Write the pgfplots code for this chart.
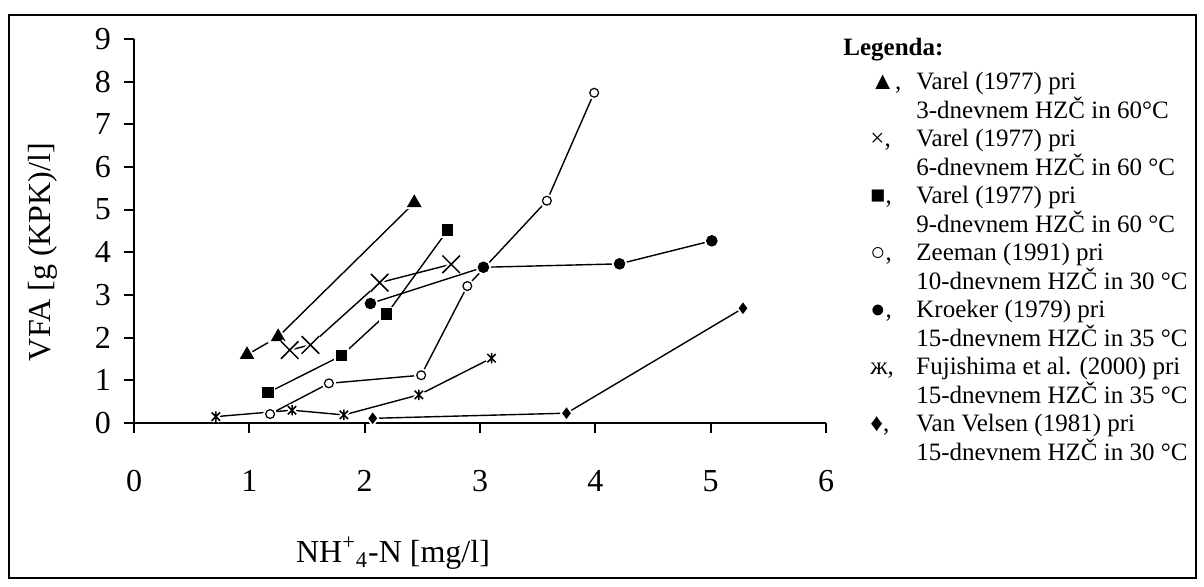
\documentclass[border=0pt]{standalone}
\usepackage{fontspec}
\setmainfont{Liberation Serif}
\usepackage{pgfplots}
\pgfplotsset{compat=1.18}
\usepackage{pgfplotstable}

% Varel (1977), 3 dni, 60 C
\pgfplotstableread{
x y
0.98 1.60
1.25 2.02
2.43 5.16
}\tri
% Varel (1977), 6 dni
\pgfplotstableread{
x y
1.35 1.71
1.53 1.83
2.13 3.29
2.75 3.72
}\crs
% Varel (1977), 9 dni
\pgfplotstableread{
x y
1.16 0.71
1.80 1.58
2.19 2.55
2.72 4.52
}\sqr
% Zeeman (1991)
\pgfplotstableread{
x y
1.18 0.21
1.69 0.93
2.49 1.12
2.89 3.21
3.58 5.21
3.99 7.74
}\ocirc
% Kroeker (1979)
\pgfplotstableread{
x y
2.05 2.80
3.03 3.65
4.21 3.73
5.01 4.27
}\fcirc
% Fujishima et al. (2000)
\pgfplotstableread{
x y
0.71 0.15
1.37 0.30
1.82 0.19
2.47 0.66
3.10 1.52
}\ast
% Van Velsen (1981)
\pgfplotstableread{
x y
2.07 0.11
3.75 0.23
5.28 2.69
}\dia

% "zh" mark: vertical bar crossed by an x
\pgfdeclareplotmark{zh}{%
  \pgfpathmoveto{\pgfqpoint{0pt}{-\pgfplotmarksize}}%
  \pgfpathlineto{\pgfqpoint{0pt}{\pgfplotmarksize}}%
  \pgfpathmoveto{\pgfqpoint{-.8\pgfplotmarksize}{-.8\pgfplotmarksize}}%
  \pgfpathlineto{\pgfqpoint{.8\pgfplotmarksize}{.8\pgfplotmarksize}}%
  \pgfpathmoveto{\pgfqpoint{-.8\pgfplotmarksize}{.8\pgfplotmarksize}}%
  \pgfpathlineto{\pgfqpoint{.8\pgfplotmarksize}{-.8\pgfplotmarksize}}%
  \pgfusepathqstroke}

\pgfplotsset{
  ln/.style={black, line width=0.7pt, mark=none},
  halo/.style={only marks, mark options={draw=white, fill=white, line width=2.6pt, solid}},
  mk/.style={only marks, mark options={draw=black, fill=black, line width=0.75pt, solid}},
}

\begin{document}
\begin{tikzpicture}
\useasboundingbox (0,0) rectangle (602pt,293pt);
\draw[line width=1pt] (4.5pt,4pt) rectangle (598pt,285.5pt);

\begin{axis}[
    at={(67pt,81.5pt)}, anchor=south west,
    scale only axis, width=346pt, height=192pt,
    xmin=0, xmax=6, ymin=0, ymax=9,
    xtick={0,...,6}, ytick={0,...,9},
    axis lines=left, axis line style={-, line width=0.9pt},
    tick align=outside, major tick length=5pt,
    tick style={black, line width=0.9pt},
    ticklabel style={font=\fontsize{16}{19}\selectfont},
    /pgf/number format/assume math mode=true,
    xticklabel style={yshift=-15pt},
    yticklabel style={xshift=-3pt},
    clip=false,
]
\addplot[ln] table {\tri};
\addplot[ln] table {\crs};
\addplot[ln] table {\sqr};
\addplot[ln] table {\ocirc};
\addplot[ln] table {\fcirc};
\addplot[ln] table {\ast};
\addplot[ln] table {\dia};

\addplot[halo, mark=triangle*, mark size=3.5pt] table {\tri};
\addplot[mk, mark=triangle*, mark size=3.5pt] table {\tri};
\addplot[halo, mark=x, mark size=6.2pt] table {\crs};
\addplot[mk, mark=x, mark size=6.2pt] table {\crs};
\addplot[halo, mark=square*, mark size=2.5pt] table {\sqr};
\addplot[mk, mark=square*, mark size=2.5pt] table {\sqr};
\addplot[halo, mark=*, mark size=2.2pt] table {\ocirc};
\addplot[only marks, mark=*, mark size=2.2pt, mark options={draw=black, fill=white, line width=0.6pt, solid}] table {\ocirc};
\addplot[halo, mark=*, mark size=2.5pt] table {\fcirc};
\addplot[mk, mark=*, mark size=2.5pt] table {\fcirc};
\addplot[halo, mark=zh, mark size=2.6pt] table {\ast};
\addplot[mk, mark=zh, mark size=2.6pt] table {\ast};
\addplot[halo, mark=diamond*, mark size=2.3pt] table {\dia};
\addplot[mk, mark=diamond*, mark size=2.3pt] table {\dia};
\end{axis}

\node[font=\fontsize{16}{19}\selectfont] at (196.5pt,16.5pt) {NH\textsuperscript{+}\textsubscript{4}-N [mg/l]};
\node[font=\fontsize{16}{19}\selectfont, rotate=90] at (21.5pt,167pt) {VFA [g (KPK)/l]};

\begin{scope}[every node/.style={font=\fontsize{12.5}{15}\selectfont, inner sep=0pt, anchor=base west}]
\node[font=\fontsize{12.5}{15}\selectfont\bfseries] at (421.5pt,265.25pt) {Legenda:};
\node at (435pt,248.25pt) {▲,};
\node at (458pt,248.25pt) {Varel (1977) pri};
\node at (458pt,234pt) {3-dnevnem HZČ in 60°C};
\node at (435pt,219.75pt) {×,};
\node at (458pt,219.75pt) {Varel (1977) pri};
\node at (458pt,205.5pt) {6-dnevnem HZČ in 60 °C};
\node at (435pt,191.25pt) {■,};
\node at (458pt,191.25pt) {Varel (1977) pri};
\node at (458pt,177pt) {9-dnevnem HZČ in 60 °C};
\node at (435pt,162.75pt) {○,};
\node at (458pt,162.75pt) {Zeeman (1991) pri};
\node at (458pt,148.5pt) {10-dnevnem HZČ in 30 °C};
\node at (435pt,134.25pt) {●,};
\node at (458pt,134.25pt) {Kroeker (1979) pri};
\node at (458pt,120pt) {15-dnevnem HZČ in 35 °C};
\node at (435pt,105.75pt) {ж,};
\node at (458pt,105.75pt) {Fujishima et al. (2000) pri};
\node at (458pt,91.5pt) {15-dnevnem HZČ in 35 °C};
\node at (435pt,77.25pt) {♦,};
\node at (458pt,77.25pt) {Van Velsen (1981) pri};
\node at (458pt,63pt) {15-dnevnem HZČ in 30 °C};
\end{scope}
\end{tikzpicture}
\end{document}
